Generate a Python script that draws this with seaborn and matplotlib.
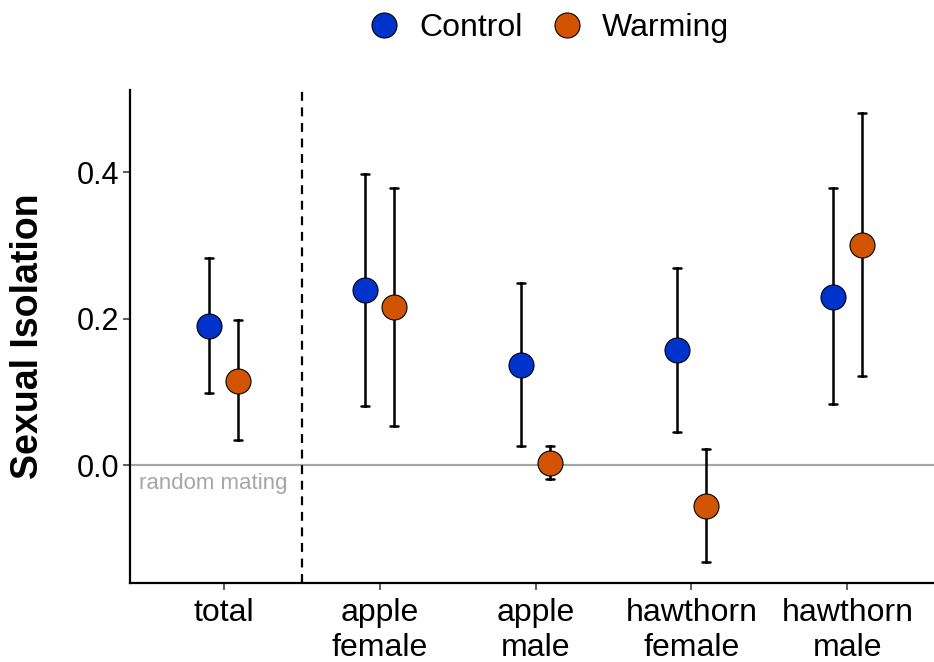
import matplotlib
matplotlib.use("Agg")
import matplotlib.pyplot as plt
from matplotlib.lines import Line2D
import pandas as pd
import seaborn as sns

groups = ["total", "apple\nfemale", "apple\nmale", "hawthorn\nfemale", "hawthorn\nmale"]
treatments = ["Control", "Warming"]
colors = {"Control": "#0033CC", "Warming": "#D35400"}

control_est = [0.190, 0.239, 0.137, 0.157, 0.229]
control_lo = [0.098, 0.081, 0.026, 0.045, 0.083]
control_hi = [0.283, 0.397, 0.248, 0.269, 0.378]

warming_est = [0.115, 0.216, 0.003, -0.056, 0.300]
warming_lo = [0.034, 0.053, -0.019, -0.132, 0.121]
warming_hi = [0.198, 0.378, 0.026, 0.022, 0.481]

# three rows per cell (lo, estimate, hi): median gives the point, 100% interval the bar
rows = []
for trt, est, lo, hi in [("Control", control_est, control_lo, control_hi),
                         ("Warming", warming_est, warming_lo, warming_hi)]:
    for g, e, l, h in zip(groups, est, lo, hi):
        for v in (l, e, h):
            rows.append({"group": g, "treatment": trt, "iso": v})
df = pd.DataFrame(rows)

sns.set_style("white")
plt.rcParams["font.family"] = ["Arial", "Liberation Sans", "DejaVu Sans"]
plt.rcParams["text.color"] = "black"

fig = plt.figure(figsize=(9.34, 6.62), dpi=100)
ax = fig.add_axes([130 / 934, 1 - 583 / 662, 1 - 130 / 934, (583 - 90) / 662])

ax.axhline(0, color="#A6A6A6", lw=1.6, zorder=0)
ax.axvline(0.5, color="black", lw=1.6, ls=(0, (4, 3)), zorder=0)

sns.pointplot(data=df, x="group", y="iso", hue="treatment", order=groups,
              hue_order=treatments, palette=colors, estimator="median",
              errorbar=("pi", 100), dodge=0.19, linestyle="none", markers="o",
              markersize=18, markeredgecolor="black", markeredgewidth=0.8,
              capsize=0.05, err_kws={"color": "black", "linewidth": 1.8},
              legend=False, ax=ax)

for ln in ax.lines:
    if ln.get_marker() == "o":
        ln.set_zorder(5)

ax.text(-0.545, -0.011, "random mating", color="#A6A6A6", fontsize=16,
        ha="left", va="top")

ax.set_xlim(-0.6, 4.555)
ax.set_ylim(-0.161, 0.512)
ax.set_yticks([0.0, 0.2, 0.4])
ax.set_yticklabels(["0.0", "0.2", "0.4"])
ax.set_xlabel("")
ax.set_ylabel("Sexual Isolation", fontsize=27, fontweight="bold", labelpad=22,
              color="black")
ax.tick_params(axis="both", labelsize=22, length=5, width=1.1, color="#333333",
               labelcolor="black", bottom=True, left=True, pad=3)
ax.tick_params(axis="x", labelsize=23, pad=6)
for side in ["top", "right"]:
    ax.spines[side].set_visible(False)
for side in ["left", "bottom"]:
    ax.spines[side].set_color("black")
    ax.spines[side].set_linewidth(1.6)

handles = [Line2D([], [], ls="none", marker="o", markersize=18,
                  markerfacecolor=colors[t], markeredgecolor="black",
                  markeredgewidth=0.8) for t in treatments]
fig.legend(handles, treatments, loc="center", bbox_to_anchor=(0.584, 0.958),
           ncol=2, frameon=False, fontsize=23, handletextpad=0.4,
           columnspacing=0.7, handlelength=1.4)

fig.savefig("out.png", dpi=100)
